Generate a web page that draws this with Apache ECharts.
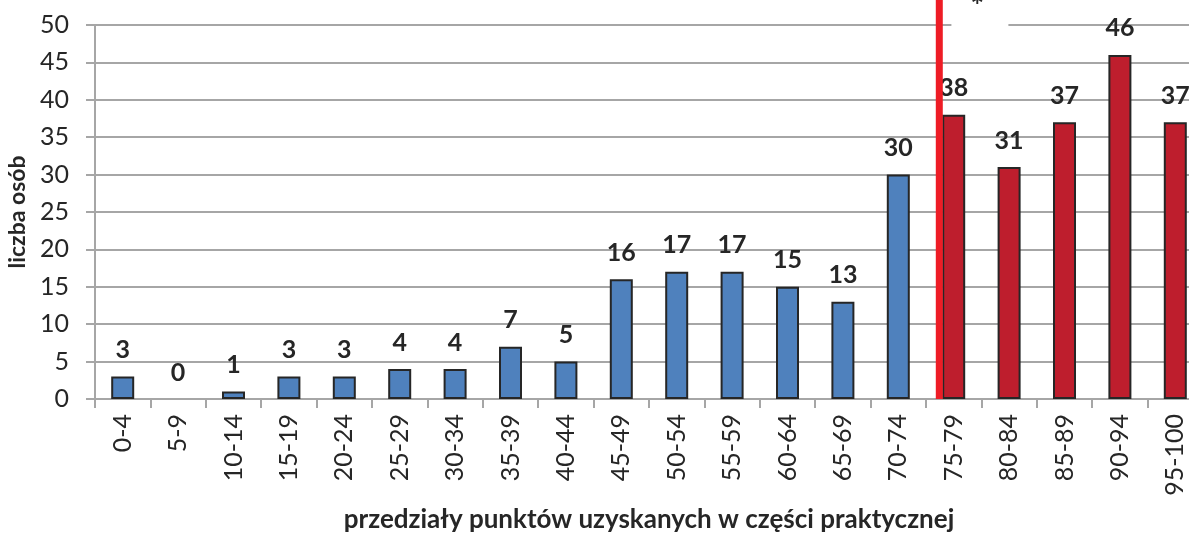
<!DOCTYPE html>
<html>
<head>
<meta charset="utf-8">
<script src="https://cdn.jsdelivr.net/npm/echarts@6/dist/echarts.min.js"></script>
<style>
  html, body { margin: 0; padding: 0; background: #fff; }
  #chart { width: 1189px; height: 534px; }
</style>
</head>
<body>
<div id="chart"></div>
<script>
// score ranges (points in the practical part)
const categories = ['0-4', '5-9', '10-14', '15-19', '20-24', '25-29', '30-34', '35-39', '40-44',
  '45-49', '50-54', '55-59', '60-64', '65-69', '70-74', '75-79', '80-84', '85-89', '90-94', '95-100']
// number of people per range
const counts = [3, 0, 1, 3, 3, 4, 4, 7, 5, 16, 17, 17, 15, 13, 30, 38, 31, 37, 46, 37]
// index of first range that passes the threshold
const passFrom = 15
// threshold position on a 0..20 category scale
const threshold = 15.24
const yTicks = { min: 0, max: 50, interval: 5 }

const blue = '#4f81bd'
const red = '#be1e2d'
const gridGray = '#a6a6a6'
const textDark = '#262626'
const font = 'Lato, "Open Sans", sans-serif'

const chart = echarts.init(document.getElementById('chart'))

chart.setOption({
  animation: false,
  grid: { left: 95, top: 25, width: 1108, height: 374, containLabel: false, outerBoundsMode: 'none' },
  xAxis: [{
    type: 'category',
    data: categories,
    boundaryGap: true,
    axisLine: { lineStyle: { color: gridGray, width: 2 } },
    axisTick: { show: true, length: 9, lineStyle: { color: gridGray, width: 2 } },
    axisLabel: { rotate: 90, margin: 15, color: textDark, fontSize: 25, fontFamily: font, interval: 0 },
    name: 'przedziały punktów uzyskanych w części praktycznej',
    nameLocation: 'middle',
    nameGap: 108,
    nameTextStyle: { color: textDark, fontSize: 26, fontWeight: 'bold', fontFamily: font }
  }, {
    // hidden helper axis used only to place the threshold line
    type: 'value',
    min: 0,
    max: 20,
    show: false
  }],
  yAxis: {
    type: 'value',
    min: yTicks.min,
    max: yTicks.max,
    interval: yTicks.interval,
    axisLine: { show: true, lineStyle: { color: gridGray, width: 2 } },
    axisTick: { show: true, length: 9, lineStyle: { color: gridGray, width: 2 } },
    splitLine: { lineStyle: { color: gridGray, width: 2 } },
    axisLabel: { margin: 26, color: textDark, fontSize: 25, fontFamily: font },
    name: 'liczba osób',
    nameLocation: 'middle',
    nameGap: 57,
    nameTextStyle: { color: textDark, fontSize: 23, fontWeight: 'bold', fontFamily: font }
  },
  series: [{
    type: 'bar',
    xAxisIndex: 0,
    data: counts.map(v => v === 0 ? { value: v, itemStyle: { borderWidth: 0 } } : v),
    barWidth: 23,
    itemStyle: {
      color: p => p.dataIndex >= passFrom ? red : blue,
      borderColor: textDark,
      borderWidth: 2
    },
    label: {
      show: true,
      position: 'top',
      distance: 14,
      color: textDark,
      fontSize: 25,
      fontWeight: 'bold',
      fontFamily: font
    }
  }]
})

// threshold line + the cut-off "*" note above the plot
const lineX = chart.convertToPixel({ xAxisIndex: 1 }, threshold)
const baseY = chart.convertToPixel({ yAxisIndex: 0 }, 0)
const noteX = chart.convertToPixel({ xAxisIndex: 1 }, 16)
const topY = chart.convertToPixel({ yAxisIndex: 0 }, yTicks.max)

chart.setOption({
  graphic: [{
    type: 'rect',
    z: 100,
    shape: { x: noteX - 30, y: 0, width: 57, height: topY + 6 },
    style: { fill: '#fff' }
  }, {
    type: 'text',
    z: 101,
    x: noteX - 4,
    y: -8,
    style: { text: '*', fill: textDark, fontSize: 32, fontWeight: 'bold', fontFamily: font, align: 'center' }
  }, {
    type: 'line',
    z: 102,
    shape: { x1: lineX, y1: 0, x2: lineX, y2: baseY },
    style: { stroke: '#ee1c25', lineWidth: 7 }
  }]
})
</script>
</body>
</html>
